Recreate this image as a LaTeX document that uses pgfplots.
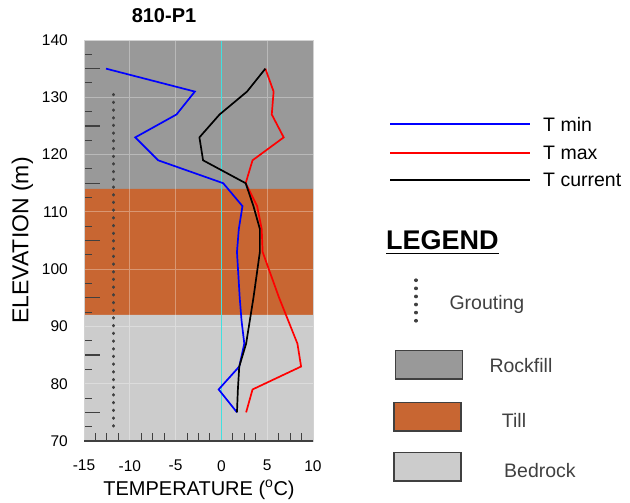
\documentclass[border=0pt]{standalone}
\usepackage{fontspec}
\setmainfont{Liberation Sans}
\usepackage{pgfplots}
\usepackage{pgfplotstable}
\pgfplotsset{compat=1.18}
\definecolor{rock}{RGB}{153,153,153}
\definecolor{till}{RGB}{200,102,50}
\definecolor{bed}{RGB}{204,204,204}
\definecolor{tickc}{RGB}{64,64,64}
\definecolor{aqua}{RGB}{64,224,224}
\definecolor{tblue}{RGB}{0,0,255}
\definecolor{tred}{RGB}{255,0,0}
\definecolor{dgray}{RGB}{64,64,64}
\definecolor{framec}{RGB}{210,210,210}

\pgfplotstableread{
E tmin tmax tcur
135 -12.6 4.8 4.8
131 -2.9 5.7 2.8
127 -4.9 5.5 -0.2
123 -9.4 6.8 -2.4
119 -6.9 3.4 -2.0
115 0.2 2.65 2.65
111 2.3 3.9 3.5
107 1.9 4.4 4.2
103 1.7 4.5 4.2
99 1.85 5.4 3.85
95 2.0 6.3 3.5
91 2.2 7.3 3.1
87 2.5 8.3 2.7
83 1.95 8.7 1.95
79 -0.3 3.4 1.8
75 1.7 2.7 1.7
}\temps

\begin{document}
\begin{tikzpicture}
\begin{axis}[
  set layers, axis on top,
  at={(84pt,60pt)}, anchor=south west,
  scale only axis, width=229pt, height=401pt,
  xmin=-15, xmax=10, ymin=70, ymax=140,
  xtick={-15,-10,-5,0,5,10}, ytick={70,80,90,100,110,120,130,140},
  xticklabels={-15,-10,-5,0,5,10},
  yticklabels={70,80,90,100,110,120,130,140},
  minor x tick num=3, minor y tick num=3,
  tick align=inside,
  xtick pos=bottom, ytick pos=left,
  major tick length=0pt, minor tick length=8pt,
  tick style={tickc, line width=1pt},
  extra y ticks={75,85,95,105,115,125,135},
  extra y tick labels={},
  extra y tick style={major tick length=16pt, tick style={tickc, line width=1.2pt}},
  unbounded coords=jump,
  axis line style={framec, line width=0.8pt},
  ticklabel style={font=\fontsize{15.5}{18}\selectfont, text=black},
  xticklabel style={inner sep=0pt, yshift=-19pt},
  yticklabel style={inner sep=0pt, xshift=-16pt},
]
\addplot[fill=rock, draw=none] coordinates {(-15,114) (10,114) (10,140) (-15,140) (-15,114)};
\addplot[fill=till, draw=none] coordinates {(-15,92) (10,92) (10,114) (-15,114) (-15,92)};
\addplot[fill=bed, draw=none] coordinates {(-15,70) (10,70) (10,92) (-15,92) (-15,70)};
% grid
\addplot[white, opacity=0.32, line width=1pt] coordinates {
 (-10,70) (-10,140) (nan,nan)
 (-5,70) (-5,140) (nan,nan)
 (5,70) (5,140) (nan,nan)
 (-15,80) (10,80) (nan,nan)
 (-15,90) (10,90) (nan,nan)
 (-15,100) (10,100) (nan,nan)
 (-15,110) (10,110) (nan,nan)
 (-15,120) (10,120) (nan,nan)
 (-15,130) (10,130)};
\addplot[tickc, line width=1.2pt, on layer=axis foreground] coordinates {(-15,70) (10,70)};
\addplot[aqua, line width=1.6pt] coordinates {(0,70) (0,140)};
\addplot[dgray, line width=3pt, line cap=round, dash pattern=on 0.5pt off 7.2pt] coordinates {(-11.8,130.5) (-11.8,72)};
\addplot[tblue, line width=1.7pt] table[x=tmin, y=E] {\temps};
\addplot[tred, line width=1.7pt] table[x=tmax, y=E] {\temps};
\addplot[black, line width=1.7pt] table[x=tcur, y=E] {\temps};
\end{axis}

% titles
\node[anchor=base, font=\fontsize{20}{24}\selectfont\bfseries] at (164pt,478.3pt) {810-P1};
\node[anchor=base, font=\fontsize{20}{24}\selectfont] at (199pt,6pt) {TEMPERATURE (\textsuperscript{o}C)};
\node[anchor=base, rotate=90, font=\fontsize{23}{27}\selectfont] at (28.3pt,260.5pt) {ELEVATION (m)};

% line legend
\draw[tblue, line width=2pt] (390pt,376.7pt) -- (530pt,376.7pt);
\draw[tred, line width=2pt] (390pt,348.3pt) -- (530pt,348.3pt);
\draw[black, line width=2pt] (390pt,321pt) -- (530pt,321pt);
\node[anchor=west, inner sep=0pt, font=\fontsize{19.5}{23}\selectfont] at (543pt,376.7pt) {T min};
\node[anchor=west, inner sep=0pt, font=\fontsize{19.5}{23}\selectfont] at (543pt,348.3pt) {T max};
\node[anchor=west, inner sep=0pt, font=\fontsize{19.5}{23}\selectfont] at (543pt,321pt) {T current};

% LEGEND
\node[anchor=base west, inner sep=0pt, font=\fontsize{27}{32}\selectfont\bfseries] (lg) at (386pt,251pt) {LEGEND};
\draw[black, line width=1.8pt] ([yshift=-3.5pt]lg.base west) -- ([yshift=-3.5pt]lg.base east);

\draw[dgray, line width=3.2pt, line cap=round, dash pattern=on 0.5pt off 7.6pt] (416pt,221pt) -- (416pt,180pt);
\node[anchor=base west, inner sep=0pt, text=dgray, font=\fontsize{19.5}{23}\selectfont] at (449.3pt,191pt) {Grouting};

\draw[fill=rock, draw=dgray, line width=1.2pt] (395.7pt,122pt) rectangle (462.3pt,150.3pt);
\node[anchor=base west, inner sep=0pt, text=dgray, font=\fontsize{19.5}{23}\selectfont] at (489.3pt,128.3pt) {Rockfill};
\draw[fill=till, draw=dgray, line width=1.2pt] (394pt,70pt) rectangle (461pt,98.3pt);
\node[anchor=base west, inner sep=0pt, text=dgray, font=\fontsize{19.5}{23}\selectfont] at (501.7pt,73.3pt) {Till};
\draw[fill=bed, draw=dgray, line width=1.2pt] (394pt,20pt) rectangle (461pt,48.3pt);
\node[anchor=base west, inner sep=0pt, text=dgray, font=\fontsize{19.5}{23}\selectfont] at (504pt,23.3pt) {Bedrock};
\path (0,0) (630pt,501pt);
\end{tikzpicture}
\end{document}
